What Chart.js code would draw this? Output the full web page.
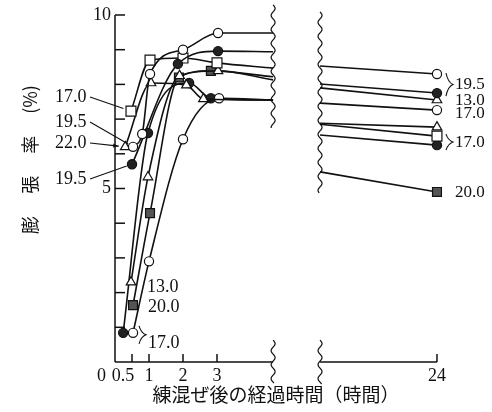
<!DOCTYPE html>
<html>
<head>
<meta charset="utf-8">
<script src="https://cdn.jsdelivr.net/npm/chart.js@4"></script>
<style>
  html, body { margin: 0; padding: 0; background: #fff; }
  #wrap { width: 492px; height: 412px; }
</style>
</head>
<body>
<div id="wrap"><canvas id="chart"></canvas></div>
<script>
const SERIF = "'Liberation Serif', 'DejaVu Serif', serif";
const JP = "'Noto Sans CJK JP', sans-serif";
const INK = "#111";

const xTickHours = [0, 0.5, 1, 2, 3, 24];
const xTickLabels = ["0", "0.5", "1", "2", "3", "24"];
const yTickLabels = ["5", "10"];

// broken x axis: 0-3 h to scale, then a gap, then 24 h
const BREAK_LEFT = 4.65;
const BREAK_RIGHT = 6.03;
const POS_24H = 9.47;
function toAxis(h) {
  return h >= 24 ? POS_24H : h;
}

// readings up to 3 h
const c195Hours = [0.53, 0.8, 1.03, 2.0, 3.03];
const c195Pct = [6.2, 6.57, 8.3, 9.0, 9.48];
const d195Hours = [0.5, 1.85, 3.03];
const d195Pct = [5.7, 8.59, 8.96];
const s170Hours = [0.47, 1.03, 2.0, 3.0];
const s170Pct = [7.23, 8.7, 8.76, 8.62];
const t220Hours = [0.3, 1.06, 2.1, 2.6];
const t220Pct = [6.2, 8.04, 7.98, 7.58];
const t130Hours = [0.47, 0.97, 1.9, 3.03];
const t130Pct = [2.3, 5.33, 8.25, 8.39];
const h200Hours = [0.53, 1.03, 1.88, 2.82];
const h200Pct = [1.64, 4.29, 8.2, 8.39];
const c170Hours = [0.53, 1.0, 2.0, 3.06];
const c170Pct = [0.84, 2.9, 6.42, 7.6];
const d170Hours = [0.24, 0.97, 2.18, 2.82];
const d170Pct = [0.84, 6.6, 8.04, 7.6];

const seriesIds = ["c195", "d195", "s170", "t220", "t130", "h200", "c170", "d170"];
const seriesHours = [c195Hours, d195Hours, s170Hours, t220Hours, t130Hours, h200Hours, c170Hours, d170Hours];
const seriesPct = [c195Pct, d195Pct, s170Pct, t220Pct, t130Pct, h200Pct, c170Pct, d170Pct];

// where each line meets the breaks, and the 24 h reading
const pctAtLeftBreak = [9.48, 8.94, 8.47, 7.55, 8.13, 8.22, 7.55, 7.55];
const pctAtRightBreak = [8.53, 8.01, 6.85, 6.88, 7.9, 5.48, 7.46, 6.54];
const pctAt24h = [8.3, 7.75, 6.51, 6.77, 7.55, 4.9, 7.26, 6.25];

const markerStyle = {
  c195: { style: "circle", fill: "#fff", r: 4.6 },
  d195: { style: "circle", fill: "#222", r: 4.6 },
  s170: { style: "rect", fill: "#fff", r: 7 },
  t220: { style: "triangle", fill: "#fff", r: 5.5 },
  t130: { style: "triangle", fill: "#fff", r: 5.5 },
  h200: { style: "rect", fill: "#555", r: 6.3 },
  c170: { style: "circle", fill: "#fff", r: 4.6 },
  d170: { style: "circle", fill: "#222", r: 4.6 },
};

function lineStyle(st) {
  return {
    borderColor: INK,
    borderWidth: 1.6,
    pointStyle: st.style,
    pointRadius: (c) => (c.raw && c.raw.edge ? 0 : st.r),
    pointBackgroundColor: st.fill,
    pointBorderColor: INK,
    pointBorderWidth: 1.2,
    clip: false,
  };
}

const datasets = [];
seriesIds.forEach((id, i) => {
  const st = markerStyle[id];
  const early = seriesHours[i].map((h, j) => ({ x: toAxis(h), y: seriesPct[i][j] }));
  early.push({ x: BREAK_LEFT, y: pctAtLeftBreak[i], edge: true });
  datasets.push({ data: early, cubicInterpolationMode: "monotone", ...lineStyle(st) });
  datasets.push({
    data: [
      { x: BREAK_RIGHT, y: pctAtRightBreak[i], edge: true },
      { x: toAxis(24), y: pctAt24h[i] },
    ],
    ...lineStyle(st),
  });
});

function seg(ctx, x1, y1, x2, y2) {
  ctx.beginPath();
  ctx.moveTo(x1, y1);
  ctx.lineTo(x2, y2);
  ctx.stroke();
}

function wave(ctx, x, yFrom, yTo) {
  ctx.beginPath();
  for (let yy = yFrom; yy <= yTo; yy += 1) {
    const xx = x + 2 * Math.sin(((yy - yFrom) / 14) * 2 * Math.PI);
    if (yy === yFrom) ctx.moveTo(xx, yy);
    else ctx.lineTo(xx, yy);
  }
  ctx.stroke();
}

function brace(ctx, x, yTop, yBot) {
  const mid = (yTop + yBot) / 2;
  ctx.beginPath();
  ctx.moveTo(x, yTop);
  ctx.quadraticCurveTo(x + 2, mid - 2, x + 7, mid);
  ctx.quadraticCurveTo(x + 2, mid + 2, x, yBot);
  ctx.stroke();
}

const brokenAxes = {
  id: "brokenAxes",
  beforeDatasetsDraw(chart) {
    const { ctx } = chart;
    const { x, y } = chart.scales;
    const x0 = x.getPixelForValue(0);
    const y0 = y.getPixelForValue(0);
    const xl = x.getPixelForValue(BREAK_LEFT);
    const xr = x.getPixelForValue(BREAK_RIGHT);
    const x24 = x.getPixelForValue(POS_24H);
    ctx.save();
    ctx.strokeStyle = INK;
    ctx.lineWidth = 1.5;
    seg(ctx, x0, y.getPixelForValue(10), x0, y0);
    for (let v = 1; v <= 10; v++) {
      const py = y.getPixelForValue(v);
      seg(ctx, x0, py, x0 + 10, py);
    }
    seg(ctx, x0, y0, xl, y0);
    seg(ctx, xr, y0, x24, y0);
    xTickHours.forEach((h) => {
      if (h === 0) return;
      const px = x.getPixelForValue(toAxis(h));
      seg(ctx, px, y0, px, y0 - 8);
    });
    ctx.lineWidth = 1.2;
    wave(ctx, xl, y.getPixelForValue(10.29), y.getPixelForValue(6.74));
    wave(ctx, xr, y.getPixelForValue(10.09), y.getPixelForValue(4.87));
    wave(ctx, xl, y.getPixelForValue(0.63), y.getPixelForValue(-0.63));
    wave(ctx, xr, y.getPixelForValue(0.63), y.getPixelForValue(-0.66));
    ctx.restore();
  },
};

const leftNotes = [
  { series: 2, text: "17.0", y: 97 },
  { series: 0, text: "19.5", y: 122 },
  { series: 3, text: "22.0", y: 143, arrow: true },
  { series: 1, text: "19.5", y: 179 },
];

const notes = {
  id: "notes",
  afterDatasetsDraw(chart) {
    const { ctx } = chart;
    const first = (s) => chart.getDatasetMeta(s * 2).data[0];
    const last = (s) => chart.getDatasetMeta(s * 2 + 1).data[1];
    ctx.save();
    ctx.fillStyle = INK;
    ctx.strokeStyle = INK;
    ctx.font = `18px ${SERIF}`;
    ctx.textBaseline = "middle";
    ctx.textAlign = "left";
    ctx.lineWidth = 1.1;

    leftNotes.forEach((n) => {
      const p = first(n.series);
      const r = markerStyle[seriesIds[n.series]].r + 1;
      const sx = 90, sy = n.y;
      const dx = p.x - sx, dy = p.y - sy;
      const len = Math.hypot(dx, dy);
      const ex = p.x - (dx / len) * r, ey = p.y - (dy / len) * r;
      ctx.fillText(n.text, 55, n.y);
      seg(ctx, sx, sy, ex, ey);
      if (n.arrow) {
        const a = Math.atan2(dy, dx);
        ctx.beginPath();
        ctx.moveTo(ex, ey);
        ctx.lineTo(ex - 6 * Math.cos(a - 0.35), ey - 6 * Math.sin(a - 0.35));
        ctx.lineTo(ex - 6 * Math.cos(a + 0.35), ey - 6 * Math.sin(a + 0.35));
        ctx.closePath();
        ctx.fill();
      }
    });

    // labels under the rising curves
    const tb = first(4), hb = first(5), cb = first(6);
    ctx.fillText("13.0", tb.x + 16, tb.y + 5);
    ctx.fillText("20.0", hb.x + 15, hb.y + 2);
    brace(ctx, cb.x + 6, cb.y - 7, cb.y + 11);
    ctx.fillText("17.0", cb.x + 15, cb.y + 10);

    // labels at 24 h
    ctx.font = `17px ${SERIF}`;
    const lx = last(0).x + 18;
    const bx = last(0).x + 9;
    brace(ctx, bx, last(0).y - 1, last(1).y + 3);
    ctx.fillText("19.5", lx, (last(0).y + last(1).y) / 2 + 1);
    ctx.fillText("13.0", lx, last(4).y + 1);
    ctx.fillText("17.0", lx, last(6).y + 3);
    brace(ctx, bx, last(2).y - 2, last(7).y + 5);
    ctx.fillText("17.0", lx, (last(2).y + last(7).y) / 2 + 2);
    ctx.fillText("20.0", lx, last(5).y + 1);
    ctx.restore();
  },
};

// the two crowded labels near the origin sit a little left of their ticks
const tickPad = ["\u2003\u2002", "\u2003"];

new Chart(document.getElementById("chart"), {
  type: "line",
  data: { datasets },
  options: {
    responsive: true,
    maintainAspectRatio: false,
    animation: false,
    layout: { autoPadding: false, padding: { left: 0, right: 37, top: 15, bottom: 0 } },
    plugins: { legend: { display: false }, tooltip: { enabled: false } },
    scales: {
      x: {
        type: "linear",
        min: 0,
        max: 10,
        afterFit(scale) {
          scale.height = 50;
        },
        afterBuildTicks(scale) {
          scale.ticks = xTickHours.map((h) => ({ value: toAxis(h) }));
        },
        grid: { display: false, drawTicks: false },
        border: { display: false },
        ticks: {
          autoSkip: false,
          maxRotation: 0,
          padding: 3,
          color: INK,
          font: { family: SERIF, size: 18 },
          callback: (v, i) => xTickLabels[i] + (tickPad[i] || ""),
        },
        title: {
          display: true,
          text: "練混ぜ後の経過時間（時間）\u3000  ",
          color: INK,
          font: { family: JP, size: 19 },
          padding: { top: 0, bottom: 6 },
        },
      },
      y: {
        min: 0,
        max: 10,
        afterFit(scale) {
          scale.width = 115;
        },
        grid: { display: false, drawTicks: false },
        border: { display: false },
        ticks: {
          stepSize: 1,
          padding: 4,
          color: INK,
          font: { family: SERIF, size: 18 },
          callback: (v) => (yTickLabels.includes(String(v)) ? String(v) : ""),
        },
        title: {
          display: true,
          text: "\u3000\u3000\u3000 膨\u3000 張\u3000 率\u3000 (%)",
          color: INK,
          font: { family: JP, size: 18 },
          padding: { top: 19, bottom: 0 },
        },
      },
    },
  },
  plugins: [brokenAxes, notes],
});
</script>
</body>
</html>
